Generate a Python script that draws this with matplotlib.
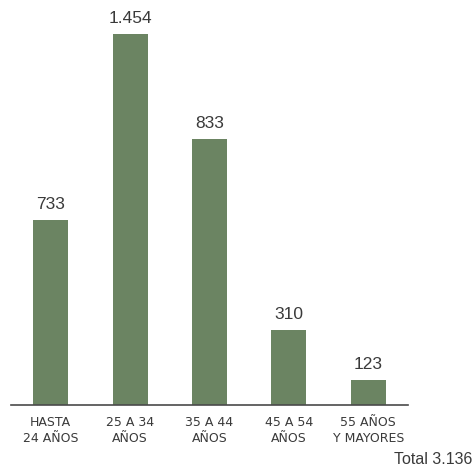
import matplotlib
matplotlib.use('Agg')
import matplotlib.pyplot as plt

# data
categorias = ['HASTA\n24 AÑOS', '25 A 34\nAÑOS', '35 A 44\nAÑOS', '45 A 54\nAÑOS', '55 AÑOS\nY MAYORES']
etiquetas = ['733', '1.454', '833', '310', '123']
# bar heights as drawn in the picture (the 833 bar is drawn taller than its value)
alturas = [725, 1454, 1042, 294, 98]
total = 'Total 3.136'

verde = '#6b8462'
gris = '#3a3a3a'
estrecha = ['Liberation Sans Narrow', 'DejaVu Sans Condensed', 'Liberation Sans', 'DejaVu Sans']

fig = plt.figure(figsize=(4.75, 4.69), dpi=100)
ax = fig.add_axes([11/475, 64/469, 397/475, 405/469])

x = range(len(alturas))
ax.bar(x, alturas, width=0.44, color=verde)
for i, h in enumerate(alturas):
    ax.text(i, h + 32, etiquetas[i], ha='center', va='bottom',
            fontsize=12.5, color=gris, family=estrecha)

ax.set_xlim(-0.5, 4.5)
ax.set_ylim(0, 1454 * 405 / 371)
for s in ['top', 'right', 'left']:
    ax.spines[s].set_visible(False)
ax.spines['bottom'].set_color('#4a4a4a')
ax.spines['bottom'].set_linewidth(1.2)
ax.set_yticks([])
ax.set_xticks(list(x))
ax.set_xticklabels(categorias, fontsize=9, color=gris, linespacing=1.25)
ax.tick_params(axis='x', length=0, pad=8)

fig.text(472/475, 1 - 459/469, total, ha='right', va='center', fontsize=11.5,
         color=gris, family=estrecha)

fig.savefig('out.png', dpi=100)
